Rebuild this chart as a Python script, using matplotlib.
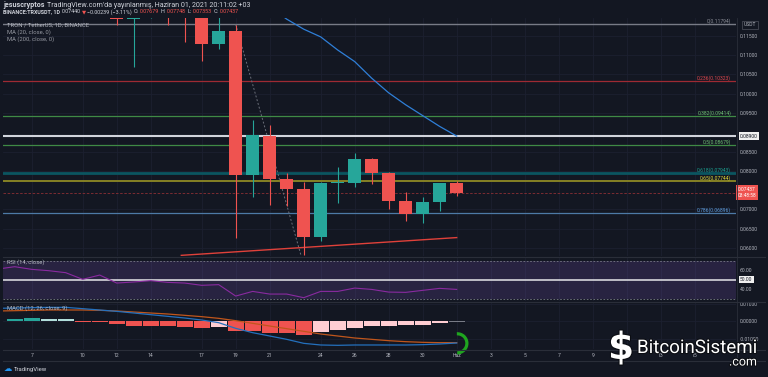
import matplotlib
matplotlib.use("Agg")
import matplotlib.pyplot as plt
import matplotlib.patheffects as pe
from matplotlib.patches import Arc
import numpy as np

W, H = 768, 377
BG = '#131722'
GRID = '#1c2030'
TXT = '#b2b5be'
UP = '#26a69a'
DOWN = '#ef5350'

plt.rcParams['font.family'] = ['Roboto', 'DejaVu Sans']

# --- data (x = day of May 2021, Jun 1 = 32) ---
days = list(range(12, 33))
opens = [0.1255, 0.1193, 0.1240, 0.1265, 0.1230, 0.1215, 0.1128, 0.1162, 0.0789, 0.0891, 0.0779,
         0.0754, 0.0628, 0.0769, 0.0769, 0.0831, 0.0795, 0.0721, 0.0688, 0.0720, 0.07679]
highs = [0.1290, 0.1330, 0.1290, 0.1300, 0.1270, 0.1250, 0.1210, 0.1178, 0.0932, 0.0919, 0.0795,
         0.0772, 0.0772, 0.0811, 0.0845, 0.0833, 0.0798, 0.0746, 0.0733, 0.0768, 0.07748]
lows = [0.1178, 0.1069, 0.1195, 0.1178, 0.1134, 0.1084, 0.1116, 0.0626, 0.0733, 0.0711, 0.0709,
        0.0582, 0.0619, 0.0716, 0.0759, 0.0765, 0.0701, 0.0671, 0.0666, 0.0697, 0.07353]
closes = [0.1193, 0.1240, 0.1265, 0.1230, 0.1215, 0.1128, 0.1162, 0.0789, 0.0893, 0.0779, 0.0754,
          0.0628, 0.0769, 0.0771, 0.0831, 0.0795, 0.0721, 0.0688, 0.0720, 0.0768, 0.07437]

ma_days = list(range(21, 33))
ma_vals = [0.1225, 0.1193, 0.1167, 0.1147, 0.1113, 0.1083, 0.1040, 0.1002, 0.0971, 0.0943, 0.0915, 0.0890]

fib_ratios = [0, 0.236, 0.382, 0.5, 0.618, 0.65, 0.786]
fib_prices = [0.11794, 0.10323, 0.09414, 0.08679, 0.07943, 0.07744, 0.06896]
fib_line_days = [19, 23]
fib_line_prices = [0.11794, 0.05561]
trend_days = [15.8, 32]
trend_prices = [0.0581, 0.0627]
hline_price = 0.08900
last_price = 0.07437

ind_days = list(range(5, 33))
rsi = [61.0, 63.5, 60.7, 59.3, 57.2, 50.2, 54.7, 46.3, 47.4, 48.8, 47.0, 46.3, 43.9, 44.6, 32.6,
       37.5, 34.7, 34.7, 30.9, 37.5, 37.5, 41.0, 39.6, 36.8, 36.5, 38.6, 40.7, 39.6]
macd = [0.00724, 0.00743, 0.00762, 0.00781, 0.00781, 0.00705, 0.00629, 0.00552, 0.00457, 0.00362,
        0.00267, 0.00171, 0.00057, -0.00095, -0.00419, -0.00667, -0.00857, -0.01048, -0.01276,
        -0.01371, -0.01390, -0.01371, -0.01371, -0.01371, -0.01371, -0.01352, -0.01314, -0.01257]
signal = [0.00571, 0.00590, 0.00610, 0.00629, 0.00629, 0.00629, 0.00610, 0.00571, 0.00514, 0.00457,
          0.00400, 0.00324, 0.00248, 0.00152, 0.00019, -0.00133, -0.00286, -0.00438, -0.00590,
          -0.00743, -0.00857, -0.00971, -0.01048, -0.01124, -0.01181, -0.01219, -0.01238, -0.01238]
hist_days = list(range(6, 33))
hist = [0.0010, 0.0015, 0.0013, 0.0010, -0.0003, -0.0003, -0.0019, -0.0027, -0.0027, -0.0030,
        -0.0034, -0.0038, -0.0037, -0.0057, -0.0058, -0.0067, -0.0069, -0.0078, -0.0065, -0.0053,
        -0.0042, -0.0030, -0.0029, -0.0025, -0.0021, -0.0011, -0.0008]

xticks = [7, 10, 12, 14, 17, 19, 21, 24, 26, 28, 30, 32, 34, 36, 38, 40, 42, 44, 46]
xlabels = ['7', '10', '12', '14', '17', '19', '21', '24', '26', '28', '30', 'Haz',
           '3', '5', '7', '9', '11', '13', '15']
price_ticks = [0.060, 0.065, 0.070, 0.080, 0.085, 0.095, 0.100, 0.105, 0.110, 0.115]

fig = plt.figure(figsize=(W / 100, H / 100), dpi=100, facecolor=BG)
renderer = fig.canvas.get_renderer()


def pane(top, bottom, left=3, right=736):
    ax = fig.add_axes([left / W, 1 - bottom / H, (right - left) / W, (bottom - top) / H])
    ax.set_facecolor(BG)
    for s in ax.spines.values():
        s.set_visible(False)
    ax.set_xlim(5.312, 48.43)
    ax.set_xticks(xticks)
    ax.tick_params(length=0, labelsize=3.6, colors=TXT, labelbottom=False, pad=2.8)
    ax.grid(True, color=GRID, lw=0.6)
    ax.set_axisbelow(True)
    ax.yaxis.tick_right()
    return ax


def put(x, y, s, **kw):
    kw.setdefault('color', TXT)
    kw.setdefault('fontsize', 4.4)
    kw.setdefault('va', 'center')
    return fig.text(x / W, 1 - y / H, s, **kw)


def put_row(x, y, parts, gap=2.5, size=4.4):
    # parts: (text, color, weight) placed one after another
    for s, c, w in parts:
        t = put(x, y, s, color=c, fontweight=w, fontsize=size)
        x = t.get_window_extent(renderer).x1 + gap


# --- price pane ---
ax = pane(18, 256)
ax.set_ylim(0.05793, 0.11959)
ax.set_yticks(price_ticks)
ax.set_yticklabels(['%.5f' % p for p in price_ticks])

fib_colors = ['#787b86', '#9e2a33', '#3f8a45', '#3f8a45', '#0b5560', '#8e8a25', '#4d7aa6']
fib_text = ['#8a8d96', '#e0474f', '#6fbf73', '#6fbf73', '#1b9e8f', '#e3dc3a', '#5f9fe0']
fib_lw = [1.0, 0.9, 0.9, 0.9, 2.0, 1.3, 0.9]
for r, p, c, tc, lw in zip(fib_ratios, fib_prices, fib_colors, fib_text, fib_lw):
    ax.axhline(p, color=c, lw=lw, zorder=1.5)
    ax.text(0.9932, p, '%g(%.5f)' % (r, p), transform=ax.get_yaxis_transform(),
            ha='right', va='bottom', color=tc, fontsize=3.6)
ax.axhline(hline_price, color='#d1d4dc', lw=1.5, zorder=1.6)
ax.axhline(last_price, color='#8c2f35', lw=0.6, ls=(0, (3, 2)), zorder=1.6)

ax.plot(ma_days, ma_vals, color='#2f7fd8', lw=0.9, zorder=2)
ax.plot(trend_days, trend_prices, color='#e0413a', lw=1.0, zorder=2)
ax.plot(fib_line_days, fib_line_prices, color='#6b6f7a', lw=0.7, ls=(0, (2, 2)), zorder=1.8)

for d, o, h, l, c in zip(days, opens, highs, lows, closes):
    col = UP if c >= o else DOWN
    ax.vlines(d, l, h, color=col, lw=0.8, zorder=3)
    ax.bar(d, max(abs(c - o), 0.00015), bottom=min(o, c), width=0.76, color=col, zorder=3.5)

ax.text(0.0055, 0.97, 'TRON / TetherUS, 1D, BINANCE', transform=ax.transAxes, fontsize=4.2,
        color=TXT, va='center')
ax.text(0.0055, 0.94, 'MA (20, close, 0)', transform=ax.transAxes, fontsize=4.2, color='#9598a1', va='center')
ax.text(0.0055, 0.91, 'MA (200, close, 0)', transform=ax.transAxes, fontsize=4.2, color='#9598a1', va='center')

tr = ax.get_yaxis_transform()
ax.text(1.0055, hline_price, '0.08900', transform=tr, fontsize=3.6, color='#131722', va='center',
        bbox=dict(boxstyle='square,pad=0.25', fc='#f0f0f0', ec='none'))
ax.text(1.002, last_price, '0.07437\n03:48:58', transform=tr, fontsize=3.5, color='white',
        va='center', linespacing=1.3, bbox=dict(boxstyle='square,pad=0.35', fc='#ef5350', ec='none'))
put(750, 25, 'USDT', fontsize=3.6, ha='center',
    bbox=dict(boxstyle='square,pad=0.3', fc=BG, ec='#50535e', lw=0.5))

# --- RSI pane ---
rx = pane(257, 301)
rx.set_ylim(27.4, 73.7)
rx.set_yticks([40, 60])
rx.set_yticklabels(['40.00', '60.00'])
rx.grid(False, axis='y')
rx.axhspan(30, 70, color='#7e57c2', alpha=0.2, lw=0)
rx.axhline(70, color='#787b86', lw=0.6, ls=(0, (2, 2)))
rx.axhline(30, color='#787b86', lw=0.6, ls=(0, (2, 2)))
rx.axhline(50, color='#e6e6ea', lw=1.1)
rx.plot(ind_days, rsi, color='#8a2aa0', lw=0.8)
rx.text(0.0055, 0.88, 'RSI (14, close)', transform=rx.transAxes, fontsize=4.2, color=TXT, va='center')
rx.text(1.0055, 50, '50.00', transform=rx.get_yaxis_transform(), fontsize=3.6, color='#131722',
        va='center', bbox=dict(boxstyle='square,pad=0.25', fc='#f0f0f0', ec='none'))

# --- MACD pane ---
mx = pane(302, 349)
mx.set_ylim(-0.0160, 0.01086)
mx.set_yticks([-0.01, 0.0, 0.01])
mx.set_yticklabels(['-0.01000', '0.00000', '0.01000'])
mx.tick_params(labelbottom=True)
mx.set_xticklabels(xlabels)
hcols = []
for i, v in enumerate(hist):
    prev = hist[i - 1] if i > 0 else 0
    if v >= 0:
        hcols.append('#26a69a' if v >= prev else '#b2dfdb')
    else:
        hcols.append('#ef5350' if v <= prev else '#ffcdd2')
hcols[-1] = '#787b86'
mx.bar(hist_days, hist, width=0.96, color=hcols, zorder=2)
mx.plot(ind_days, signal, color='#c0561c', lw=0.9, zorder=3)
mx.plot(ind_days, macd, color='#2470bd', lw=0.9, zorder=3)
mx.text(0.0055, 0.88, 'MACD (12, 26, close, 9)', transform=mx.transAxes, fontsize=4.2, color=TXT, va='center')
mx.add_patch(Arc((32.04, -0.01274), 1.12, 0.01086, theta1=205, theta2=170, color='#1fa51f',
                 lw=2.3, clip_on=False, zorder=5))

# pane separators
for y in (256.5, 301.5, 349.5, 361):
    fig.add_artist(plt.Line2D([3 / W, 765 / W], [1 - y / H] * 2, color='#2a2e39', lw=0.8))
fig.add_artist(plt.Line2D([736.5 / W] * 2, [1 - 18 / H, 1 - 361 / H], color='#2a2e39', lw=0.6))

# header
put_row(3, 5.3, [('jesuscryptos', '#d1d4dc', 'bold'),
                 ("TradingView.com'da yayınlanmış, Haziran 01, 2021 20:11:02 +03", '#d1d4dc', 'normal')],
        gap=2.5, size=5.1)
put_row(3, 11.8, [('BINANCE:TRXUSDT, 1D', '#d1d4dc', 'bold'), ('0.07440', '#d1d4dc', 'normal'),
                  ('▼', DOWN, 'normal'), ('−0.00239 (−3.11%)', '#d1d4dc', 'normal'),
                  ('O:', '#d1d4dc', 'normal'), ('0.07679', DOWN, 'normal'),
                  ('H:', '#d1d4dc', 'normal'), ('0.07748', DOWN, 'normal'),
                  ('L:', '#d1d4dc', 'normal'), ('0.07353', DOWN, 'normal'),
                  ('C:', '#d1d4dc', 'normal'), ('0.07437', DOWN, 'normal')], gap=1.4, size=3.9)

# footer logo
put(4, 369, '☁', color='#2196f3', fontsize=6)
put(14, 369, 'TradingView', color='#d1d4dc', fontsize=4.3)

# watermark
stroke = [pe.withStroke(linewidth=1.5, foreground='#0b0d12')]
put(621, 349, '$', color='white', fontsize=27, fontweight='bold', ha='center',
    family='DejaVu Sans', path_effects=stroke)
put(697, 348, 'BitcoinSistemi', color='white', fontsize=13.5, ha='center', path_effects=stroke)
put(757, 362, '.com', color='white', fontsize=9, ha='right', path_effects=stroke)

fig.savefig('out.png', dpi=100, facecolor=BG)
